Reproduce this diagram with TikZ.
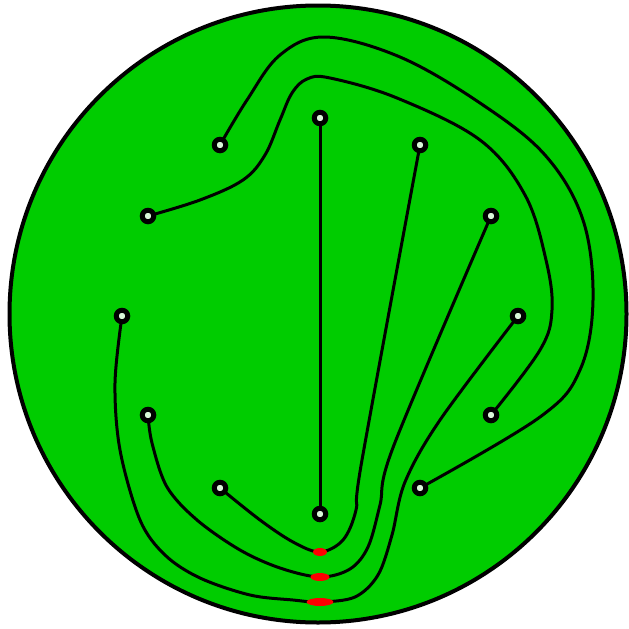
\documentclass[tikz,border=0pt]{standalone}
\definecolor{bggreen}{RGB}{0,204,0}
\begin{document}
\begin{tikzpicture}[x=1pt,y=-1pt,
  wire/.style={line width=3pt, line cap=round, line join=round},
  pin/.style={circle, draw, line width=5pt, fill=white!85!bggreen, minimum size=11.5pt, inner sep=0pt},
  redmark/.style={fill=red, draw=none}]
\useasboundingbox (0,0) rectangle (629,629);
% board
\draw[line width=4pt, fill=bggreen] (318,314) circle[radius=308.5];
% pin positions
\coordinate (pA) at (220,145);
\coordinate (pB) at (148,216);
\coordinate (pC) at (320,118);
\coordinate (pD) at (420,145);
\coordinate (pE) at (491,216);
\coordinate (pF) at (122,316);
\coordinate (pG) at (518,316);
\coordinate (pH) at (148,415);
\coordinate (pI) at (491,415);
\coordinate (pJ) at (220,488);
\coordinate (pK) at (420,488);
\coordinate (pL) at (320,514);
% wires
\draw[wire] (pC) -- (pL);
\draw[wire] plot[smooth, tension=0.55] coordinates {(pJ) (260,520) (293,542) (320,552) (343,540) (356,510) (362,460) (pD)};
\draw[wire] plot[smooth, tension=0.55] coordinates {(pH) (152,443) (167,487) (197,520) (240,550) (280,568) (320,577) (350,569) (368,547) (380,505) (394,445) (pE)};
\draw[wire] plot[smooth, tension=0.55] coordinates {(pF) (115,383) (120,450) (140,520) (165,555) (200,578) (250,595) (293,600) (320,602) (355,597) (378,575) (392,535) (405,482) (440,420) (pG)};
\draw[wire] plot[smooth, tension=0.6] coordinates {(pA) (247,100) (280,55) (325,37) (400,57) (480,103) (545,155) (583,220) (593,300) (580,370) (540,417) (pK)};
\draw[wire] plot[smooth, tension=0.6] coordinates {(pB) (200,200) (243,180) (265,155) (280,120) (292,93) (307,79) (330,78) (397,98) (480,140) (525,195) (546,260) (552,310) (540,350) (pI)};
% red marks
\fill[redmark] (320,552) ellipse[x radius=7, y radius=4];
\fill[redmark] (320,577) ellipse[x radius=9.5, y radius=4];
\fill[redmark] (320,602) ellipse[x radius=13.5, y radius=4];
% pins
\foreach \p in {A,B,C,D,E,F,G,H,I,J,K,L}{
  \node[pin] (n\p) at (p\p) {};
}
\end{tikzpicture}
\end{document}
